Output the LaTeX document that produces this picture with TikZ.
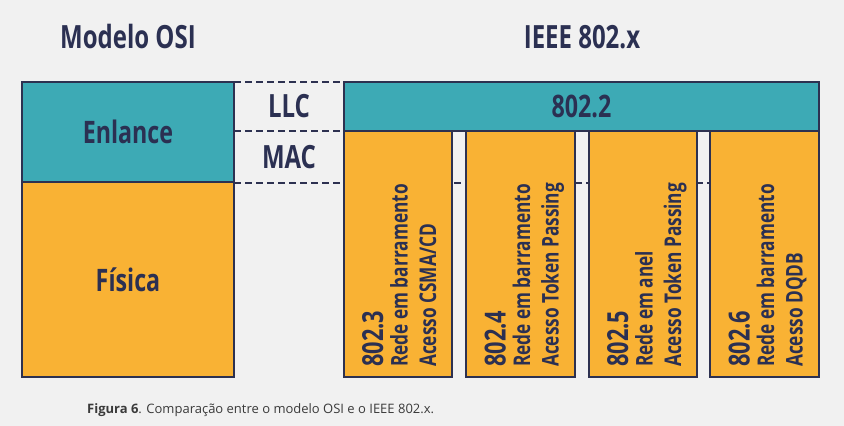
\documentclass[tikz,border=0pt]{standalone}
\usepackage{fontspec}
\setmainfont{Open Sans}
\newfontfamily\condf[FakeStretch=0.75]{Open Sans}
\begin{document}
\begin{tikzpicture}[x=1pt,y=-1pt,
  bgc/.style={fill=bgcol,draw=none},
  layer/.style={draw=edgecol,line width=2.5pt,inner sep=0pt,outer sep=0pt,
     font=\condf\bfseries\fontsize{31}{31}\selectfont,text=txtcol},
  tealbox/.style={layer,fill=tealcol},
  orangebox/.style={layer,fill=orangecol},
  dashsep/.style={draw=edgecol,line width=2pt,dash pattern=on 7pt off 4pt},
  titletext/.style={font=\condf\bfseries\fontsize{32}{32}\selectfont,text=txtcol,inner sep=0pt,anchor=base},
  subtext/.style={font=\condf\bfseries\fontsize{32}{32}\selectfont,text=txtcol,inner sep=0pt},
  numlab/.style={font=\condf\bfseries\fontsize{29}{29}\selectfont,text=txtcol,inner sep=0pt,rotate=90,anchor=base west},
  txtlab/.style={font=\condf\bfseries\fontsize{23}{23}\selectfont,text=txtcol,inner sep=0pt,rotate=90,anchor=base west}
]
\definecolor{bgcol}{HTML}{F1F1F1}
\definecolor{edgecol}{HTML}{2D3150}
\definecolor{txtcol}{HTML}{2B3052}
\definecolor{tealcol}{HTML}{3DAAB5}
\definecolor{orangecol}{HTML}{F9B234}
\definecolor{capcol}{HTML}{3A3A3A}
\path[bgc] (0,0) rectangle (844,426);
\useasboundingbox (0,0) rectangle (844,426);

% titles
\node[titletext] (tosi) at (128,48) {Modelo OSI};
\node[titletext] (tieee) at (582,48) {IEEE 802.x};

% dashed separators
\coordinate (d1a) at (234,82);  \coordinate (d1b) at (344,82);
\coordinate (d2a) at (234,131); \coordinate (d2b) at (344,131);
\coordinate (d3a) at (234,183); \coordinate (d3b) at (764,183);
\draw[dashsep] (d1a) -- (d1b);
\draw[dashsep] (d2a) -- (d2b);
\draw[dashsep] (d3a) -- (d3b);

% OSI column
\node[tealbox,minimum width=212pt,minimum height=100pt] (enl) at (128,132) {Enlance};
\node[orangebox,minimum width=212pt,minimum height=195pt] (fis) at (128,279.5) {Física};

% LLC / MAC
\node[subtext] (llc) at (289,106) {LLC};
\node[subtext] (mac) at (289,157) {MAC};

% IEEE
\node[tealbox,minimum width=475pt,minimum height=49pt] (p2) at (581.5,106.5) {802.2};
\node[orangebox,minimum width=108pt,minimum height=246pt] (p3) at (398,254) {};
\node[orangebox,minimum width=109pt,minimum height=246pt] (p4) at (520.5,254) {};
\node[orangebox,minimum width=108pt,minimum height=246pt] (p5) at (643,254) {};
\node[orangebox,minimum width=109pt,minimum height=246pt] (p6) at (764.5,254) {};

\newcommand{\stdlabels}[5]{%
  \node[numlab] (#1n) at (#2-15,367) {#3};
  \node[txtlab] (#1a) at (#2+9.5,367) {#4};
  \node[txtlab] (#1b) at (#2+38,367) {#5};}
\stdlabels{l3}{398}{802.3}{Rede em barramento}{Acesso CSMA/CD}
\stdlabels{l4}{520.5}{802.4}{Rede em barramento}{Acesso Token Passing}
\stdlabels{l5}{643}{802.5}{Rede em anel}{Acesso Token Passing}
\stdlabels{l6}{764.5}{802.6}{Rede em barramento}{Acesso DQDB}

% caption
\node[anchor=base west,inner sep=0pt,text=capcol,font=\fontsize{13}{13}\selectfont] (cap) at (87,413) {\textbf{Figura 6}. Comparação entre o modelo OSI e o IEEE 802.x.};
\end{tikzpicture}
\end{document}
